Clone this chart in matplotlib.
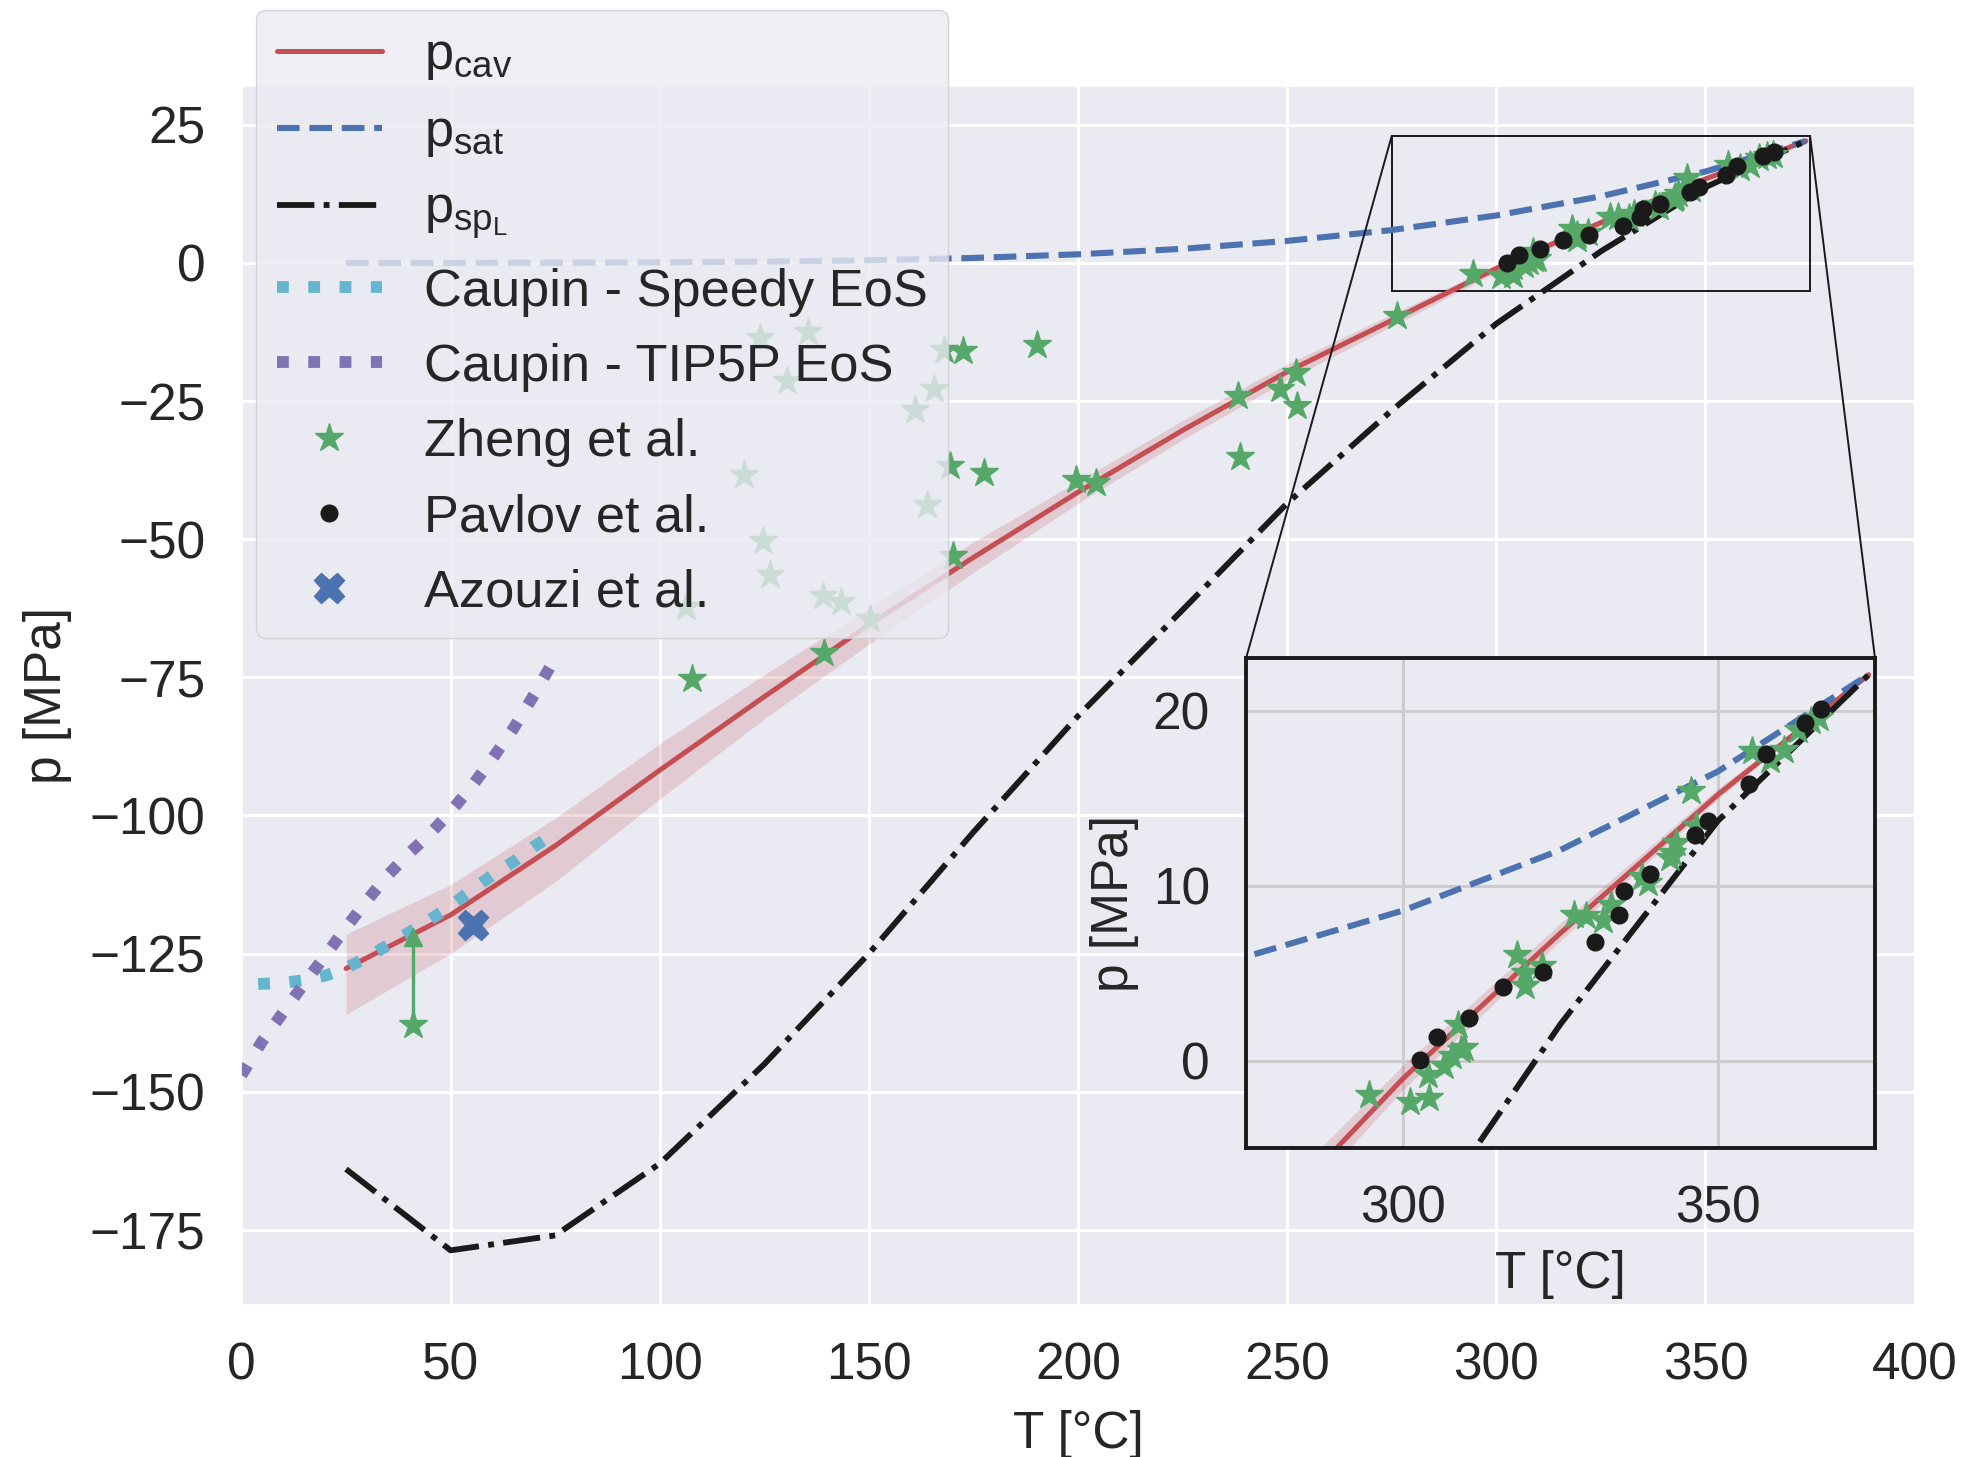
import matplotlib
matplotlib.use('Agg')
import matplotlib.pyplot as plt
import seaborn as sns
from mpl_toolkits.axes_grid1.inset_locator import mark_inset

# temperatures of the model curves [degC]
T_grid = [25, 50, 75, 100, 125, 150, 175, 200, 225, 250, 275, 300, 325, 350, 374]
# cavitation pressure and its band [MPa]
p_cav = [-127.7, -118.0, -105.5, -91.8, -78.5, -65.5, -53.3, -41.5, -30.3, -19.7, -10.4, -1.0, 7.3, 15.2, 22.06]
p_cav_hi = [-121.5, -112.5, -100.5, -87.0, -74.5, -62.5, -50.5, -39.5, -28.5, -18.3, -9.3, -0.3, 7.8, 15.5, 22.06]
p_cav_lo = [-136.0, -125.0, -112.0, -97.0, -82.5, -69.0, -56.0, -43.5, -32.0, -21.2, -11.5, -1.7, 6.8, 14.9, 22.06]
# saturation pressure
p_sat = [0.0032, 0.0124, 0.0386, 0.1014, 0.2321, 0.4762, 0.8926, 1.5549, 2.5501, 3.9776, 5.9468, 8.5879, 12.046, 16.529, 22.064]
# liquid spinodal
p_sp = [-164.0, -178.7, -176.0, -163.0, -145.0, -125.0, -103.0, -82.0, -62.8, -43.5, -26.7, -11.0, 2.1, 13.7, 22.06]

# Caupin EoS curves
speedy_T = [4, 10, 15, 20, 25, 30, 35, 40, 45, 50, 55, 60, 65, 70, 75]
speedy_p = [-130.5, -130.3, -129.8, -129.0, -127.6, -125.7, -123.5, -121.2, -118.9, -116.4, -113.5, -110.8, -108.4, -105.6, -103.2]
tip5p_T = [0, 5, 10, 15, 20, 25, 30, 35, 40, 45, 50, 55, 60, 65, 70, 75]
tip5p_p = [-147.0, -140.8, -135.6, -130.4, -125.4, -120.3, -115.4, -110.8, -106.9, -103.4, -99.3, -94.8, -89.7, -84.3, -78.1, -71.5]

# Zheng et al.
zheng_T = [106.3, 107.8, 120.2, 124.0, 124.8, 126.4, 130.4, 135.5, 139.1, 139.3, 143.3, 150.2,
           161.1, 163.9, 165.5, 167.9, 169.5, 170.2, 172.6, 177.5, 190.3, 199.4, 204.4,
           238.3, 238.7, 248.4, 252.1, 252.3, 276.2, 294.5, 301.0, 304.1, 304.0, 306.5,
           307.8, 309.1, 309.7, 308.7, 318.0, 319.4, 319.4, 322.0, 327.2, 329.1, 331.7,
           333.0, 337.9, 338.9, 342.7, 343.4, 342.4, 345.7, 346.6, 355.4, 358.3, 360.6,
           362.8, 364.8, 366.1]
zheng_p = [-62.3, -75.3, -38.4, -13.6, -50.3, -56.5, -21.4, -12.5, -60.2, -70.6, -61.3, -64.5,
           -26.6, -43.9, -22.9, -15.7, -36.8, -53.0, -16.0, -38.1, -14.9, -39.2, -39.8,
           -24.1, -35.1, -22.9, -20.0, -25.9, -9.6, -1.98, -2.36, -2.13, -0.8, -0.32,
           0.25, 0.63, 0.72, 2.06, 6.06, 5.0, 4.25, 5.39, 8.34, 8.25, 8.06,
           8.9, 10.5, 10.15, 11.87, 12.44, 11.58, 15.39, 13.4, 17.68, 17.2, 17.77,
           18.9, 19.4, 19.6]
# Zheng point with a lower bound
zheng_bar_T = [41, 41]
zheng_bar_p = [-138.0, -122.0]

# Pavlov et al.
pavlov_T = [302.6, 305.3, 310.4, 315.9, 322.2, 330.4, 334.3, 335.1, 339.2, 346.3, 348.4,
            354.9, 357.6, 363.8, 366.4]
pavlov_p = [0.02, 1.35, 2.44, 4.21, 5.1, 6.76, 8.34, 9.68, 10.69, 12.88, 13.68,
            15.83, 17.54, 19.3, 20.1]

# Azouzi et al.
azouzi_T = [55.4]
azouzi_p = [-119.8]

sns.set_theme(style='darkgrid')
plt.rcParams['font.family'] = ['Liberation Sans', 'DejaVu Sans']
plt.rcParams['mathtext.fontset'] = 'custom'
plt.rcParams['mathtext.rm'] = 'Liberation Sans'
plt.rcParams['mathtext.it'] = 'Liberation Sans:italic'

red, blue, green, purple, cyan = '#C44E52', '#4C72B0', '#55A868', '#8172B3', '#64B5CD'
FS = 37


def draw(a, full):
    a.fill_between(T_grid, p_cav_lo, p_cav_hi, color=red, alpha=0.2, lw=0)
    a.plot(T_grid, p_cav, color=red, lw=3.6, label=r'p$_{\mathrm{cav}}$')
    a.plot(T_grid, p_sat, color=blue, lw=4.4, ls='--', label=r'p$_{\mathrm{sat}}$')
    a.plot(T_grid, p_sp, color='k', lw=4.2, ls='-.', label=r'p$_{\mathrm{sp}_{\mathrm{L}}}$')
    if full:
        a.plot(speedy_T, speedy_p, color=cyan, lw=8.5, ls=':', label='Caupin - Speedy EoS')
        a.plot(tip5p_T, tip5p_p, color=purple, lw=8.5, ls=':', label='Caupin - TIP5P EoS')
        a.plot(zheng_bar_T, zheng_bar_p, color=green, lw=2.4)
        a.plot(zheng_bar_T[1:], zheng_bar_p[1:], color=green, marker='^', ms=13, ls='none')
        a.plot(zheng_bar_T[:1], zheng_bar_p[:1], color=green, marker='*', ms=21, ls='none')
    a.plot(zheng_T, zheng_p, color=green, marker='*', ms=21, ls='none', label='Zheng et al.')
    a.plot(pavlov_T, pavlov_p, color='k', marker='o', ms=12, ls='none', label='Pavlov et al.')
    a.plot(azouzi_T, azouzi_p, color=blue, marker='X', ms=22, ls='none', label='Azouzi et al.')


fig = plt.figure(figsize=(19.71, 14.57), dpi=100)
ax = fig.add_axes([0.1225, 0.1043, 0.8489, 0.8370])
draw(ax, True)
ax.set_xlim(0, 400)
ax.set_ylim(-188.6, 32.1)
ax.set_xticks([0, 50, 100, 150, 200, 250, 300, 350, 400])
ax.set_yticks([25, 0, -25, -50, -75, -100, -125, -150, -175])
ax.tick_params(labelsize=FS, pad=26, length=0)
ax.grid(color='white', lw=2.2)
ax.set_xlabel('T [°C]', fontsize=FS, labelpad=14)
ax.set_ylabel('p [MPa]', fontsize=FS, labelpad=13)

leg = ax.legend(loc='upper left', bbox_to_anchor=(256 / 1971, 1 - 10 / 1457),
                bbox_transform=fig.transFigure, borderaxespad=0, fontsize=37.7,
                labelspacing=0.5, framealpha=0.8)

axins = fig.add_axes([0.6322, 0.2119, 0.3191, 0.3363])
draw(axins, False)
axins.set_xlim(275, 375)
axins.set_ylim(-5, 23)
axins.set_xticks([300, 350])
axins.set_yticks([0, 10, 20])
axins.tick_params(labelsize=FS, pad=26, length=0)
axins.grid(color='0.8', lw=2.2)
for s in axins.spines.values():
    s.set_visible(True)
    s.set_color('k')
    s.set_linewidth(2.8)
axins.set_xlabel('T [°C]', fontsize=FS, labelpad=12)
axins.set_ylabel('p [MPa]', fontsize=FS, labelpad=10)

mark_inset(ax, axins, loc1=2, loc2=1, fc='none', ec='0.1', lw=1.4)

fig.savefig('out.png', dpi=100)
